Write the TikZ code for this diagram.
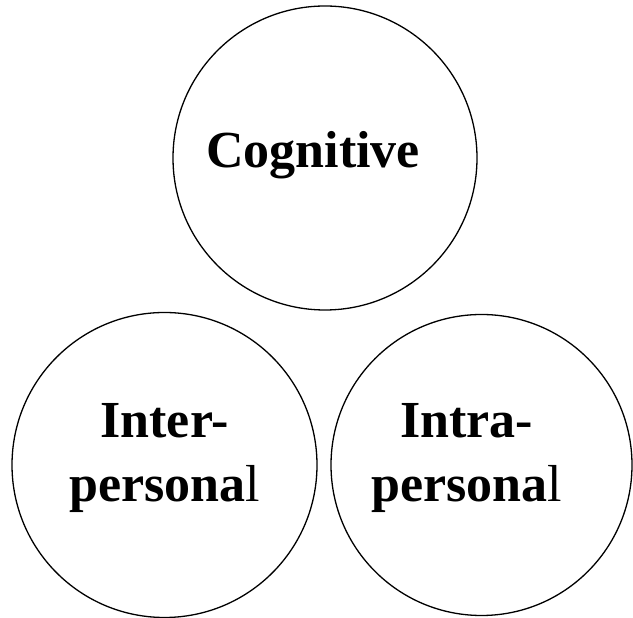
\documentclass[tikz,border=0pt]{standalone}
\usepackage{fontspec}
\setmainfont{Liberation Serif}
\usetikzlibrary{positioning,calc}
\tikzset{
  ring/.style={draw, circle, line width=1.3pt, minimum size=#1, inner sep=0pt},
  word/.style={font=\fontsize{52}{64}\selectfont\bfseries, inner sep=0pt, anchor=base}
}
\begin{document}
\begin{tikzpicture}[x=1pt, y=1pt, line join=round]
\useasboundingbox (0,0) rectangle (633,618);
% circles
\node[ring=304pt] (Cog)   at (325,460)   {};
\node[ring=305pt] (Inter) at (164.5,153) {};
\node[ring=301pt] (Intra) at (481.5,153) {};
% texts
\node[word] (tCog)    at ($(Cog)+(-12,-10)$)  {Cognitive};
\node[word] (tInter)  at ($(Inter)+(0,27)$)   {Inter-};
\node[word] (tInterB) at ($(Inter)+(0,-37)$)  {persona\textmd{l}};
\node[word] (tIntra)  at ($(Intra)+(-15,27)$) {Intra-};
\node[word] (tIntraB) at ($(Intra)+(-15,-37)$) {persona\textmd{l}};
\end{tikzpicture}
\end{document}
